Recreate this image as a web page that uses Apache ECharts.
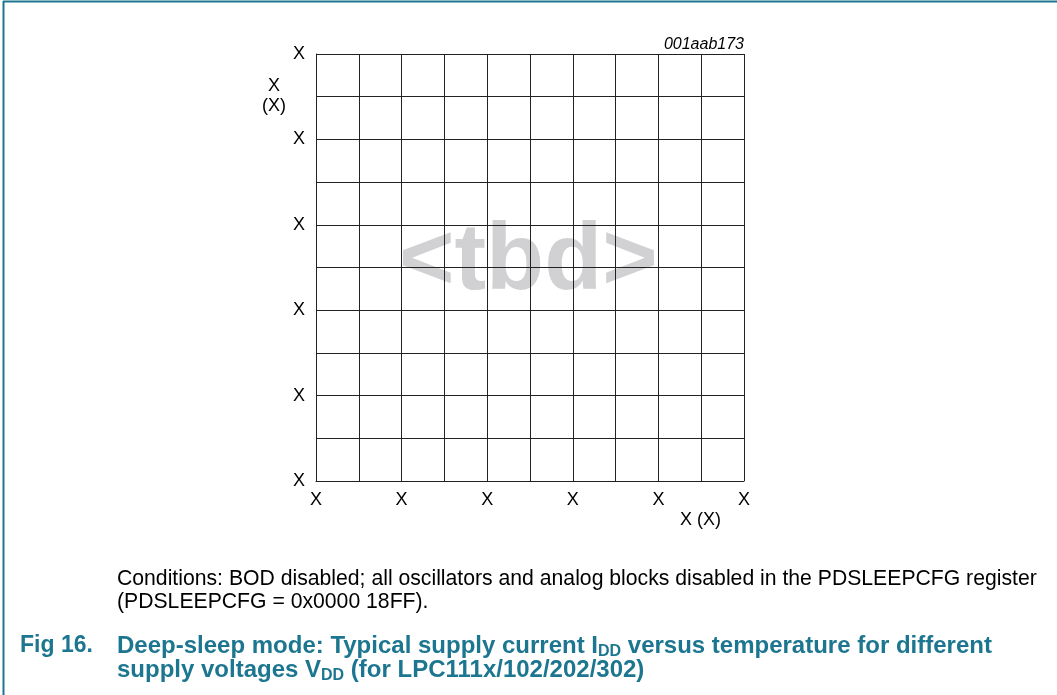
<!DOCTYPE html>
<html>
<head>
<meta charset="utf-8">
<script src="https://cdn.jsdelivr.net/npm/echarts@6/dist/echarts.min.js"></script>
<style>
  html, body { margin: 0; padding: 0; background: #fff; }
  #chart { width: 1057px; height: 695px; }
</style>
</head>
<body>
<div id="chart"></div>
<script>
// axis ticks (placeholder labels on every other grid line)
const xTickValues = [0, 2, 4, 6, 8, 10];
const xTickLabels = ['X', 'X', 'X', 'X', 'X', 'X'];
const yTickValues = [0, 2, 4, 6, 8, 10];
const yTickLabels = ['X', 'X', 'X', 'X', 'X', 'X'];
const xName = 'X (X)';
const yName = 'X\n(X)';
const figId = '001aab173';
const watermark = '<tbd>';

const teal = '#1d7690';
const font = 'Liberation Sans, Arial, sans-serif';

const chart = echarts.init(document.getElementById('chart'));

const tickLabel = (values, labels) => v => {
  const i = values.indexOf(v);
  return i >= 0 ? labels[i] : '';
};

const option = {
  animation: false,
  grid: { left: 316, top: 54, width: 428, height: 427 },
  xAxis: {
    type: 'value', min: 0, max: 10, interval: 1,
    axisLine: { show: true, lineStyle: { color: '#222', width: 1 } },
    axisTick: { show: false },
    splitLine: { show: true, lineStyle: { color: '#222', width: 1 } },
    axisLabel: {
      formatter: tickLabel(xTickValues, xTickLabels),
      color: '#000', fontFamily: font, fontSize: 18, margin: 10,
      showMinLabel: true, showMaxLabel: true
    }
  },
  yAxis: {
    type: 'value', min: 0, max: 10, interval: 1,
    axisLine: { show: true, lineStyle: { color: '#222', width: 1 } },
    axisTick: { show: false },
    splitLine: { show: true, lineStyle: { color: '#222', width: 1 } },
    axisLabel: {
      formatter: tickLabel(yTickValues, yTickLabels),
      color: '#000', fontFamily: font, fontSize: 18, margin: 11,
      showMinLabel: true, showMaxLabel: true
    }
  },
  series: [{ type: 'line', data: [], silent: true }],
  graphic: [
    // watermark, under the grid lines
    { type: 'text', left: 399, top: 215, z: -10, silent: true, style: { text: watermark, font: 'bold 95px ' + font, fill: '#d1d1d3' } },
    // figure frame (top and left rules)
    { type: 'line', shape: { x1: 3, y1: 1.5, x2: 1057, y2: 1.5 }, style: { stroke: teal, lineWidth: 2 } },
    { type: 'line', shape: { x1: 3.5, y1: 1, x2: 3.5, y2: 695 }, style: { stroke: teal, lineWidth: 2 } },
    // axis names
    { type: 'text', left: 262, top: 76, style: { text: yName, font: '18px ' + font, fill: '#000', textAlign: 'center', lineHeight: 20 } },
    { type: 'text', left: 680, top: 511, style: { text: xName, font: '18px ' + font, fill: '#000' } },
    // figure id
    { type: 'text', right: 313, top: 37, style: { text: figId, font: 'italic 16px ' + font, fill: '#000' } },
    // conditions
    { type: 'text', left: 117, top: 568, style: {
        text: 'Conditions: BOD disabled; all oscillators and analog blocks disabled in the PDSLEEPCFG register\n(PDSLEEPCFG = 0x0000 18FF).',
        font: '21.2px ' + font, fill: '#000', lineHeight: 23 } },
    // caption
    { type: 'text', left: 20, top: 634, style: { text: 'Fig 16.', font: 'bold 23px ' + font, fill: teal } },
    { type: 'text', left: 117, top: 633, style: {
        text: '{a|Deep-sleep mode: Typical supply current I}{s|DD}{a| versus temperature for different}\n{a|supply voltages V}{s|DD}{a| (for LPC111x/102/202/302)}',
        rich: {
          a: { font: 'bold 24px ' + font, fill: teal, lineHeight: 24 },
          s: { font: 'bold 16px ' + font, fill: teal, lineHeight: 24, padding: [11, 0, 0, 0] }
        } } }
  ]
};

chart.setOption(option);
</script>
</body>
</html>
